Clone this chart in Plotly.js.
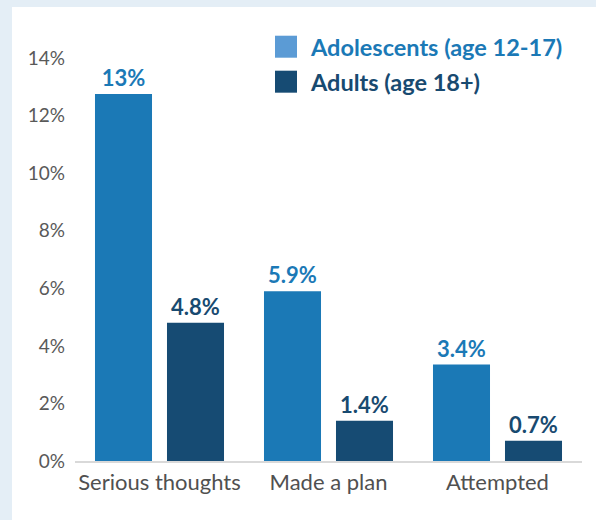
<!DOCTYPE html>
<html>
<head>
<meta charset="utf-8">
<script src="https://cdn.plot.ly/plotly-3.0.1.min.js"></script>
<style>
  html, body { margin: 0; padding: 0; width: 596px; height: 520px; background: #e4eef6; overflow: hidden; }
  #chart { position: absolute; left: 12px; top: 7px; width: 584px; height: 513px; background: #ffffff; }
</style>
</head>
<body>
<div id="chart"></div>
<script>
// ---- data ----
const categories = ["Serious thoughts", "Made a plan", "Attempted"];
const seriesNames = ["Adolescents (age 12-17)", "Adults (age 18+)"];
const adolescentValues = [12.75, 5.9, 3.35];
const adultValues = [4.8, 1.4, 0.7];
const adolescentLabels = ["13%", "5.9%", "3.4%"];
const adultLabels = ["4.8%", "1.4%", "0.7%"];
const yTickValues = [0, 2, 4, 6, 8, 10, 12, 14];
const yTickText = yTickValues.map(v => v + "%");

// ---- styles ----
const barColors = ["#1b79b6", "#164b73"];
const swatchColors = ["#5b9bd5", "#164b73"];
const labelColors = ["#1b79b6", "#184a70"];
const FONT = "Lato, 'Open Sans', sans-serif";

const traces = [
  {
    type: "bar", x: categories, y: adolescentValues, name: seriesNames[0],
    marker: { color: barColors[0] },
    text: adolescentLabels, textposition: "outside", cliponaxis: false,
    textfont: { family: FONT, size: 22, color: labelColors[0], weight: "bold" },
    hoverinfo: "x+y", showlegend: false
  },
  {
    type: "bar", x: categories, y: adultValues, name: seriesNames[1],
    marker: { color: barColors[1] },
    text: adultLabels, textposition: "outside", cliponaxis: false,
    textfont: { family: FONT, size: 22, color: labelColors[1], weight: "bold" },
    hoverinfo: "x+y", showlegend: false
  }
];

// manual legend (page pixel -> paper coords)
const plotLeft = 75, plotW = 507, plotBottom = 461.5, plotH = 403.2;
const px = v => (v - plotLeft) / plotW;
const py = v => (plotBottom - v) / plotH;
const legendRows = [47, 82];
const shapes = [];
const annotations = [];
seriesNames.forEach((nm, i) => {
  const cy = legendRows[i];
  shapes.push({
    type: "rect", xref: "paper", yref: "paper",
    x0: px(275), x1: px(297), y0: py(cy + 11), y1: py(cy - 11),
    fillcolor: swatchColors[i], line: { width: 0 }
  });
  annotations.push({
    xref: "paper", yref: "paper", x: px(308), y: py(cy),
    xanchor: "left", yanchor: "middle", showarrow: false,
    text: "<b>" + nm + "</b>",
    font: { family: FONT, size: 23.5, color: labelColors[i] }
  });
});

const layout = {
  width: 584, height: 513,
  margin: { l: 63, r: 14, t: 51.3, b: 58.5, pad: 0 },
  paper_bgcolor: "#ffffff", plot_bgcolor: "#ffffff",
  barmode: "group", bargap: 0.148, bargroupgap: 0.208,
  showlegend: false,
  xaxis: {
    type: "category", showgrid: false, zeroline: false,
    showline: true, linecolor: "#d9d9d9", linewidth: 1.5,
    ticks: "", tickfont: { family: FONT, size: 22, color: "#505050" },
    ticklabelstandoff: 1
  },
  yaxis: {
    range: [0, 14], tickmode: "array", tickvals: yTickValues, ticktext: yTickText,
    showgrid: false, zeroline: false, showline: false, ticks: "",
    tickfont: { family: FONT, size: 19, color: "#595959" },
    ticklabelstandoff: 9
  },
  shapes: shapes,
  annotations: annotations
};

Plotly.newPlot("chart", traces, layout, { displayModeBar: false, staticPlot: true });
</script>
</body>
</html>
